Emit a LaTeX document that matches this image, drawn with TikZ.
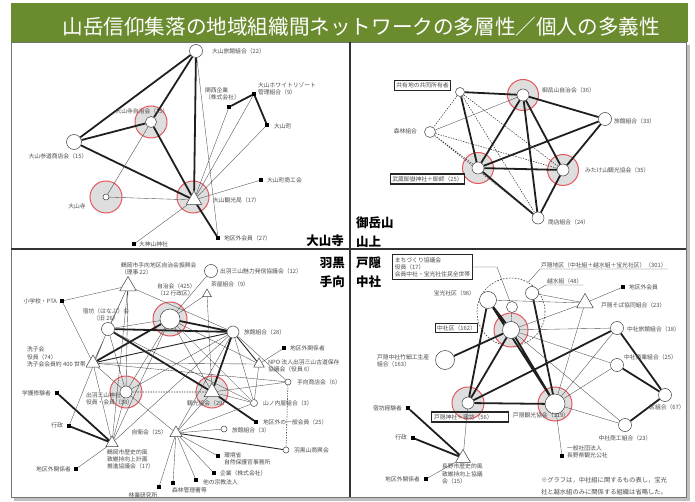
\documentclass[tikz,border=0pt]{standalone}
\usepackage{fontspec}
\setmainfont{Noto Sans CJK JP}
\usetikzlibrary{shapes.geometric}
\pgfdeclarelayer{back}
\pgfdeclarelayer{halo}
\pgfdeclarelayer{edge}
\pgfsetlayers{back,halo,edge,main}
\definecolor{banner}{RGB}{106,139,46}
\definecolor{ring}{RGB}{228,88,92}

\begin{document}
\begin{tikzpicture}[x=1pt,y=-1pt,
  org/.style={circle,draw=black!75,fill=white,line width=0.5pt,inner sep=0pt,minimum size=#1},
  org/.default=11,
  tri/.style={regular polygon,regular polygon sides=3,draw=black!75,fill=white,line width=0.5pt,inner sep=0pt,minimum size=#1},
  tri/.default=16,
  sq/.style={fill=black,inner sep=0pt,minimum size=3.6pt},
  halo/.style={circle,fill=black!13,draw=ring,line width=1pt,minimum size=#1},
  halo/.default=32,
  lab/.style={font=\fontsize{5.8}{7.2}\selectfont,text=black!70,inner sep=0.8pt},
  boxlab/.style={lab,draw=black!85,line width=1.1pt,inner sep=2.2pt},
  tk/.style={line width=1.8pt,black!88},
  tm/.style={line width=0.9pt,black!85},
  tn/.style={line width=0.35pt,black!70},
  td/.style={line width=0.55pt,black!80,dash pattern=on 1.3pt off 1.3pt},
  placename/.style={font=\bfseries\fontsize{12.5}{19}\selectfont,inner sep=0pt}]
\useasboundingbox (0,0) rectangle (695,502);
\begin{pgfonlayer}{back}
 \fill[black!25] (14,45) rectangle (690,501); %影
 \fill[white] (11,42) rectangle (686,497);
 \draw[black!55,line width=0.6pt] (11,42) rectangle (686,497);
 \draw[black!80,line width=1.3pt] (350,42) -- (350,497) (11,249) -- (686,249);
 \fill[banner] (11,3) rectangle (688,42);
\end{pgfonlayer}
\node[font=\fontsize{20.6}{24}\selectfont,text=white,anchor=west] (title) at (59,27) {山岳信仰集落の地域組織間ネットワークの多層性／個人の多義性};

% 大山寺
\node[org=13] (ryokan) at (196,51) {};
\node[org=11] (jichi) at (151,122) {};
\node[org=15] (sando) at (74,142) {};
\node[org=6] (daisenji) at (106,197) {};
\node[tri=18] (kankou) at (194,200) {};
\node[sq] (gaikai) at (218,238) {};
\node[sq] (jinja) at (134,244) {};
\node[sq] (shoko) at (261,180) {};
\node[sq] (town) at (267,125) {};
\node[sq] (white) at (254,94) {};
\node[sq] (kigyo) at (229,107) {};
\node[lab,anchor=west] (ryokan-l) at (211,51) {大山旅館組合（22）};
\node[lab] (jichi-l) at (142,111) {大山寺自治会（15）};
\node[lab] (sando-l) at (58,156) {大山参道商店会（15）};
\node[lab] (daisenji-l) at (77,206) {大山寺};
\node[lab,anchor=west] (kankou-l) at (212,200) {大山観光局（17）};
\node[lab,anchor=west] (gaikai-l) at (223,238) {地区外会員（27）};
\node[lab,anchor=west] (jinja-l) at (138,244) {大神山神社};
\node[lab,anchor=west] (shoko-l) at (266,180) {大山町商工会};
\node[lab,anchor=west] (town-l) at (273,126) {大山町};
\node[lab,anchor=west,align=left] (white-l) at (257,88.5) {大山ホワイトリゾート\\管理組合（9）};
\node[lab,anchor=west,align=left] (kigyo-l) at (204,93.5) {関西企業\\（株式会社）};
\node[placename,anchor=east] (p-daisen) at (344,241) {大山寺};

% 御岳山 山上
\node[org=9] (kyoyu) at (460,92) {};
\node[org=12] (mjichi) at (523,95) {};
\node[org=13] (mryokan) at (605,119) {};
\node[org=11] (shinrin) at (430,132) {};
\node[org=12] (mjinja) at (478,168) {};
\node[org=12] (mkanko) at (563,170) {};
\node[org=12] (mshoten) at (538,218) {};
\node[boxlab] (kyoyu-l) at (422.5,85.5) {共有地の共同所有者};
\node[boxlab] (mjinja-l) at (427.5,179) {武蔵御嶽神社＋御師（25）};
\node[lab,anchor=west] (mjichi-l) at (541,90) {御岳山自治会（36）};
\node[lab,anchor=west] (mryokan-l) at (613,121) {旅館組合（33）};
\node[lab,anchor=east] (shinrin-l) at (418,131) {森林組合};
\node[lab,anchor=west] (mkanko-l) at (584,170) {みたけ山観光協会（35）};
\node[lab,anchor=west] (mshoten-l) at (547,222) {商店組合（24）};
\node[placename,anchor=west,align=left] (p-mitake) at (356,232.5) {御岳山\\山上};

% 羽黒 手向
\node[tri=19] (riji) at (128,286) {};
\node[org=13] (miryoku) at (211,271) {};
\node[org=20] (hjichi) at (170,319) {};
\node[tri=10] (chaya) at (207,294) {};
\node[sq] (pta) at (62,301) {};
\node[org=13] (shukubo) at (108,329) {};
\node[org=12] (hryokan) at (233,332) {};
\node[sq] (gaibu1) at (284,348) {};
\node[tri=12] (npo) at (259,364) {};
\node[tri=16] (ujiko) at (93,363) {};
\node[org=12] (hjinja) at (126,392) {};
\node[tri=18] (hkanko) at (212,392) {};
\node[org=6] (tomuke) at (288,382) {};
\node[org=7] (yamanouchi) at (254,403) {};
\node[sq] (shugen) at (57,393) {};
\node[sq] (gaibu2) at (256,422) {};
\node[sq] (gyosei) at (69,426) {};
\node[tri=14] (jiei) at (176,433) {};
\node[org=6] (hryokan3) at (224,429) {};
\node[org=6] (hagurosho) at (286,450) {};
\node[tri=14] (rekishi) at (112,443) {};
\node[sq] (gaibu3) at (76,469) {};
\node[sq] (kankyo) at (218,456) {};
\node[sq] (kigyo2) at (214,473) {};
\node[sq] (shukyo) at (196,480) {};
\node[sq] (shinrinkan) at (173,483) {};
\node[sq] (ringyo) at (159,487) {};
\node[lab,anchor=west,align=left] (riji-l) at (120,268.5) {鶴岡市手向地区自治会振興会\\（理事 22）};
\node[lab,anchor=west] (miryoku-l) at (219,271) {出羽三山魅力発信協議会（12）};
\node[lab,anchor=west,align=left] (hjichi-l) at (156,290) {自治会（425）\\（12 行政区）};
\node[lab,anchor=west] (chaya-l) at (210,284) {茶屋組合（9）};
\node[lab,anchor=east] (pta-l) at (58,301) {小学校・PTA};
\node[lab,align=center] (shukubo-l) at (106,315) {宿坊（はなぶ）会\\（旧 26）};
\node[lab,anchor=west] (hryokan-l) at (243,332) {旅館組合（28）};
\node[lab,anchor=west] (gaibu1-l) at (289,348) {地区外関係者};
\node[lab,anchor=west,align=left] (npo-l) at (267,366) {NPO 法人出羽三山古道保存\\協議会（役員 6）};
\node[lab,anchor=west,align=left] (ujiko-l) at (26,357) {洗子会\\役員（74）\\洗子会会員約 400 世帯};
\node[lab,anchor=west,align=left] (hjinja-l) at (85,398.5) {出羽三山神社\\役員・会員（38）};
\node[lab,anchor=west] (hkanko-l) at (186,403) {観光協会（29）};
\node[lab,anchor=west] (tomuke-l) at (296,382) {手向商店会（6）};
\node[lab,anchor=west] (yamanouchi-l) at (262,403) {山ノ内屋組合（3）};
\node[lab,anchor=east] (shugen-l) at (52,393) {学護修験者};
\node[lab,anchor=west] (gaibu2-l) at (262,422) {地区外の一般会員（25）};
\node[lab,anchor=east] (gyosei-l) at (64,425) {行政};
\node[lab,anchor=east] (jiei-l) at (168,432) {自衛会（25）};
\node[lab,anchor=west] (hryokan3-l) at (231,430) {旅館組合（3）};
\node[lab,anchor=west] (hagurosho-l) at (293,450) {羽黒山商興会};
\node[lab,anchor=west,align=left] (rekishi-l) at (106,459.5) {鶴岡市歴史的風\\致維持向上計画\\推進協議会（17）};
\node[lab,anchor=east] (gaibu3-l) at (72,469) {地区外関係者};
\node[lab,anchor=west,align=left] (kankyo-l) at (223,459) {環境省\\自然保護官事務所};
\node[lab,anchor=west] (kigyo2-l) at (219,473) {企業（株式会社）};
\node[lab,anchor=west] (shukyo-l) at (202,482) {他の宗教法人};
\node[lab,anchor=west] (shinrinkan-l) at (171,490) {森林管理署等};
\node[lab] (ringyo-l) at (143,495) {林業研究所};
\node[placename,anchor=east,align=right] (p-haguro) at (345,272) {羽黒\\手向};

% 戸隠 中社
\node[org=11] (machic) at (512,307) {};
\node[org=17] (hoko) at (488,300) {};
\node[org=13] (koshimizu) at (532,293) {};
\node[org=17] (nakasha) at (511,330) {};
\node[sq] (gaikai4) at (623,287) {};
\node[tri=19] (soba) at (585,303) {};
\node[org=13] (nryokan) at (617,328) {};
\node[org=13] (nshogyo) at (617,365) {};
\node[org=13] (kumiai) at (665,395) {};
\node[org=13] (nshoko) at (625,425) {};
\node[org=19] (take) at (445,360) {};
\node[org=12] (tjinja) at (468,403) {};
\node[org=20] (tkanko) at (555,404) {};
\node[sq] (koshagai) at (562,456) {};
\node[sq] (keiken) at (408,408) {};
\node[sq] (gyosei4) at (413,438) {};
\node[tri=17] (nrekishi) at (463,458) {};
\node[sq] (gaibu4) at (426,479) {};
\coordinate (mbend) at (497,267);
\node[boxlab,align=left] (machi) at (432.5,267) {まちづくり協議会\\役員（17）\\会員中社・宝光社住民全世帯};
\node[lab,anchor=south west] (tlab) at (540,269) {戸隠地区（中社組＋越水組＋宝光社区）（301）};
\node[lab,anchor=south west] (klab) at (546,285) {越水組（48）};
\node[lab,anchor=east] (hoko-l) at (476,293) {宝光社区（98）};
\node[boxlab,inner sep=1.4pt] (nakasha-l) at (456.5,328) {中社区（162）};
\node[lab,anchor=west] (gaikai4-l) at (628,287) {地区外会員};
\node[lab,anchor=west] (soba-l) at (600,305) {戸隠そば協同組合（23）};
\node[lab,anchor=west] (nryokan-l) at (626,329) {中社旅館組合（18）};
\node[lab,anchor=west] (nshogyo-l) at (623,357) {中社商業組合（25）};
\node[lab] (kumiai-l) at (667,407) {区組合（67）};
\node[lab] (nshoko-l) at (625,438) {中社商工組合（23）};
\node[lab,anchor=west,align=left] (take-l) at (376,361) {戸隠中社竹細工生産\\組合（163）};
\node[boxlab,text width=72pt,align=left] (tjinja-l) at (470,417) {戸隠神社＋宿坊（56）};
\node[lab] (tkanko-l) at (541,415) {戸隠観光協会（119）};
\node[lab,anchor=west,align=left] (koshagai-l) at (566,451.5) {一般社団法人\\長野県観光公社};
\node[lab,anchor=east] (keiken-l) at (403,408) {宿坊経験者};
\node[lab,anchor=east] (gyosei4-l) at (408,437) {行政};
\node[lab,anchor=west,align=left] (nrekishi-l) at (441,474) {長野市歴史的風\\致維持向上協議\\会（15）};
\node[lab,anchor=east] (gaibu4-l) at (421,479) {地区外関係者};
\node[lab,anchor=west,align=left,font=\fontsize{6.3}{11.5}\selectfont] (note) at (540,486) {※グラフは，中社組に関するもの表し，宝光\\社と越水組のみに関係する組織は省略した。};
\node[placename,anchor=west,align=left] (p-togakushi) at (356,272.5) {戸隠\\中社};

% 影の円
\begin{pgfonlayer}{halo}
 \node[halo] (jichi-h) at (jichi) {};
 \node[halo] (daisenji-h) at (daisenji) {};
 \node[halo] (kankou-h) at (193,197) {};
 \node[halo=31] (mjichi-h) at (mjichi) {};
 \node[halo=31] (mjinja-h) at (mjinja) {};
 \node[halo=31] (mkanko-h) at (mkanko) {};
 \node[halo=34] (hjichi-h) at (hjichi) {};
 \node[halo] (hjinja-h) at (hjinja) {};
 \node[halo] (hkanko-h) at (hkanko) {};
 \node[circle,draw=black!80,line width=0.6pt,dash pattern=on 1.5pt off 1.5pt,minimum size=68pt] (togakushi) at (511,312) {}; %戸隠地区
 \node[halo=34] (nakasha-h) at (nakasha) {};
 \node[halo] (tjinja-h) at (tjinja) {};
 \node[halo=34] (tkanko-h) at (tkanko) {};
\end{pgfonlayer}

\begin{pgfonlayer}{edge}
 % 大山寺
 \draw[tk] (ryokan) -- (sando) (ryokan) -- (jichi) (ryokan) -- (kankou) (sando) -- (jichi)
   (sando) -- (kankou) (jichi) -- (kankou) (kankou) -- (gaikai) (white) -- (kigyo) (white) -- (town);
 \draw[tn] (ryokan) -- (gaikai) (jichi) -- (daisenji) (daisenji) -- (kankou) (kankou) -- (kigyo)
   (kankou) -- (white) (kankou) -- (town) (kankou) -- (shoko) (kankou) -- (jinja);
 % 御岳山
 \draw[tk] (kyoyu) -- (mjichi) (kyoyu) -- (mjinja) (mjichi) -- (mryokan) (mjichi) -- (mjinja)
   (mjichi) -- (mkanko) (mjichi) -- (mshoten) (mryokan) -- (mjinja) (mryokan) -- (mkanko)
   (mjinja) -- (mkanko) (mjinja) -- (mshoten) (mkanko) -- (mshoten);
 \draw[tn] (shinrin) -- (mjichi);
 \draw[td] (kyoyu) -- (shinrin) (kyoyu) -- (mkanko) (kyoyu) -- (mshoten) (shinrin) -- (mjinja)
   (shinrin) -- (mkanko) (shinrin) -- (mshoten);
 % 羽黒
 \draw[tk] (shukubo) -- (hryokan) (hjichi) -- (hryokan) (hjichi) -- (ujiko) (shukubo) -- (hkanko)
   (hryokan) -- (hkanko) (hkanko) -- (gaibu2) (shugen) -- (rekishi) (gyosei) -- (rekishi);
 \draw[tm] (hryokan) -- (npo) (ujiko) -- (hryokan) (jiei) -- (hagurosho);
 \draw[tn] (riji) -- (pta) (riji) -- (hryokan) (riji) -- (shukubo) (riji) -- (hjinja) (riji) -- (rekishi)
   (riji) -- (ujiko) (pta) -- (ujiko) (miryoku) -- (hjichi) (chaya) -- (hjichi) (chaya) -- (hkanko)
   (hjichi) -- (shukubo) (hjichi) -- (npo) (hjichi) -- (yamanouchi) (hjichi) -- (hjinja)
   (hjichi) -- (hkanko) (hjichi) -- (rekishi) (shukubo) -- (hjinja) (shukubo) -- (yamanouchi)
   (shukubo) -- (gyosei) (ujiko) -- (npo) (ujiko) -- (tomuke) (ujiko) -- (hjinja) (ujiko) -- (rekishi)
   (hjinja) -- (hryokan) (hjinja) -- (jiei) (hjinja) -- (rekishi) (hryokan) -- (yamanouchi)
   (hryokan) -- (tomuke) (hryokan) -- (jiei) (hryokan) -- (rekishi) (npo) -- (gaibu1)
   (npo) -- (yamanouchi) (hkanko) -- (jiei) (hkanko) -- (yamanouchi) (hkanko) -- (tomuke)
   (jiei) -- (hryokan3) (jiei) -- (kankyo) (jiei) -- (kigyo2) (jiei) -- (shukyo)
   (jiei) -- (shinrinkan) (jiei) -- (ringyo) (jiei) -- (yamanouchi) (rekishi) -- (gaibu3);
 \draw[td] (hjinja) -- (hkanko) (tomuke) -- (hagurosho);
 % 戸隠
 \draw[tk] (hoko) -- (nakasha) (hoko) -- (tjinja) (hoko) -- (tkanko) (koshimizu) -- (tkanko)
   (nakasha) -- (take) (nakasha) -- (tjinja) (nakasha) -- (tkanko) (tjinja) -- (tkanko)
   (tjinja) -- (nryokan) (nryokan) -- (kumiai) (nshogyo) -- (kumiai) (kumiai) -- (nshoko)
   (keiken) -- (nrekishi) (gyosei4) -- (nrekishi);
 \draw[tn] (machi) -- (mbend) -- (machic) (hoko) -- (soba) (koshimizu) -- (soba) (soba) -- (gaikai4)
   (soba) -- (nakasha) (soba) -- (tkanko) (nakasha) -- (nryokan) (nakasha) -- (nshogyo)
   (nakasha) -- (nshoko) (tkanko) -- (nryokan) (tkanko) -- (nshogyo) (tkanko) -- (nshoko)
   (tkanko) -- (koshagai) (tjinja) -- (nrekishi) (nrekishi) -- (gaibu4) (machic) -- (nakasha);
 \draw[tn] (togakushi.60) -- (tlab.south west) -- (tlab.south east);
 \draw[tn] (koshimizu) -- (klab.south west) -- (klab.south east);
\end{pgfonlayer}
\end{tikzpicture}
\end{document}
